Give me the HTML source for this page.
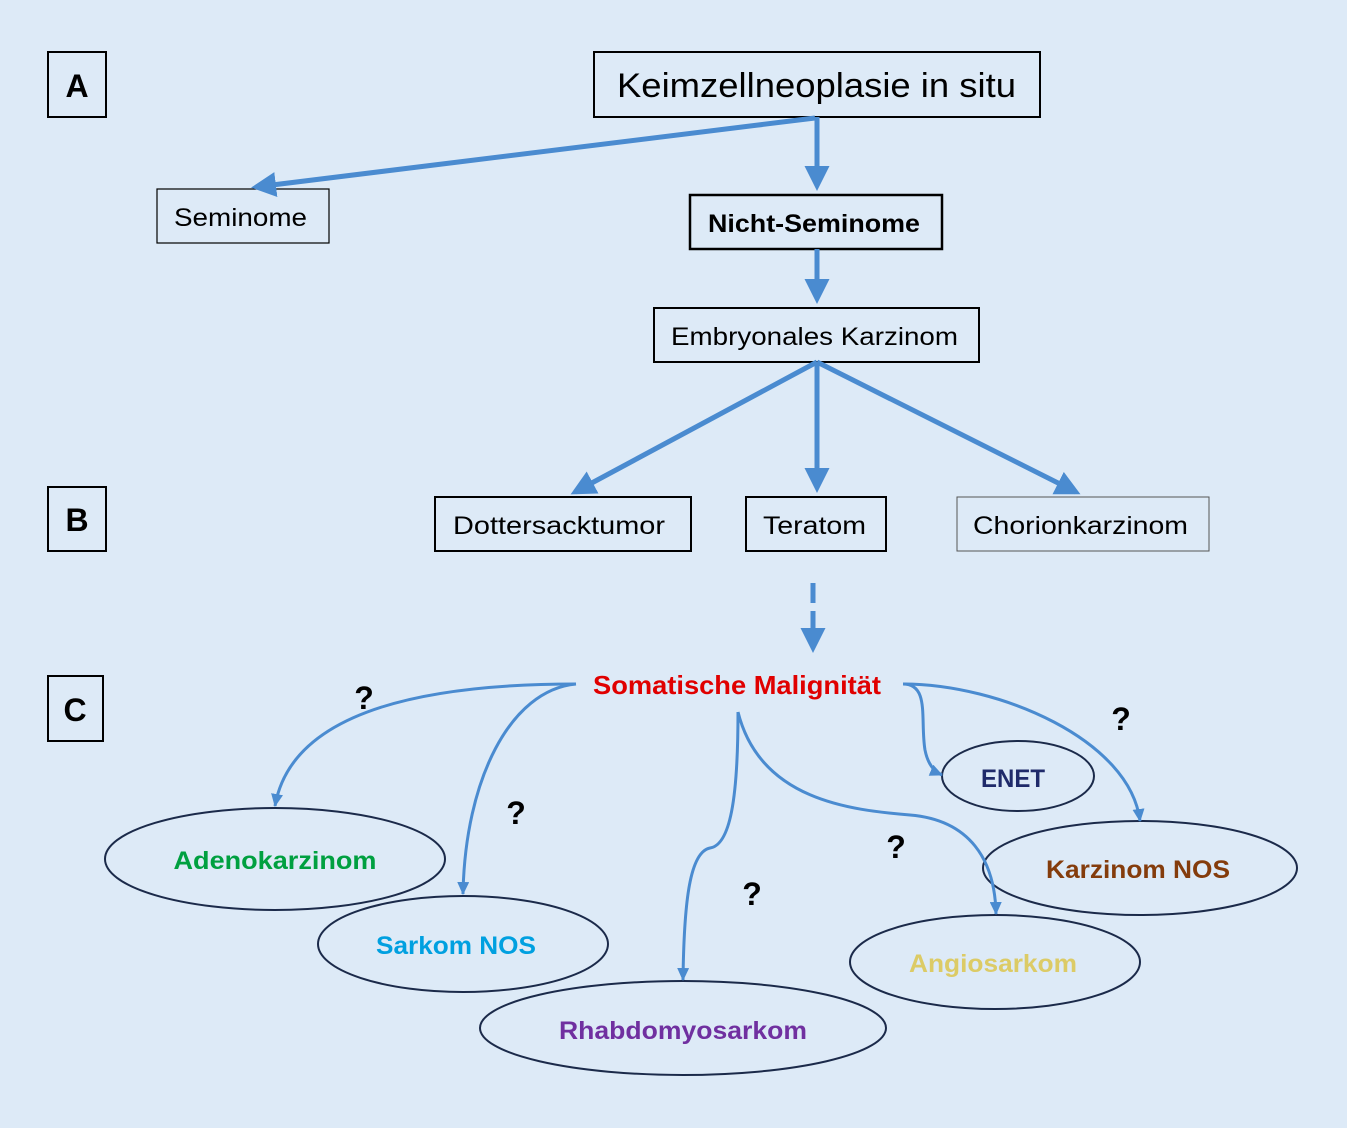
<!DOCTYPE html>
<html><head><meta charset="utf-8"><style>
html,body{margin:0;padding:0;background:#ddeaf7;}
svg{display:block;}
text{font-family:"Liberation Sans",sans-serif;}
</style></head><body>
<svg width="1347" height="1128" viewBox="0 0 1347 1128" xmlns="http://www.w3.org/2000/svg">
<defs>
<marker id="ab" markerWidth="5" markerHeight="5" refX="4" refY="2.5" orient="auto" markerUnits="strokeWidth"><path d="M0,0 L5,2.5 L0,5 z" fill="#4a8bd0"/></marker>
<marker id="as" markerWidth="13" markerHeight="12" refX="12" refY="6" orient="auto" markerUnits="userSpaceOnUse"><path d="M0,0 L13,6 L0,12 z" fill="#4a8bd0"/></marker>
</defs>
<rect width="1347" height="1128" fill="#ddeaf7"/>
<g fill="none" stroke="#000" stroke-width="2">
<rect x="48" y="52" width="58" height="65"/>
<rect x="48" y="487" width="58" height="64"/>
<rect x="48" y="676" width="55" height="65"/>
<rect x="594" y="52" width="446" height="65"/>
<rect x="157" y="189" width="172" height="54" stroke-width="1.2"/>
<rect x="690" y="195" width="252" height="54" stroke-width="2.5"/>
<rect x="654" y="308" width="325" height="54"/>
<rect x="435" y="497" width="256" height="54"/>
<rect x="746" y="497" width="140" height="54"/>
<rect x="957" y="497" width="252" height="54" stroke="#555" stroke-width="1"/>
</g>
<g font-weight="bold" font-size="32" text-anchor="middle">
<text x="77" y="97">A</text><text x="77" y="531">B</text><text x="75" y="721">C</text>
</g>
<text x="617" y="97" font-size="34" textLength="399" lengthAdjust="spacingAndGlyphs">Keimzellneoplasie in situ</text>
<text x="174" y="226" font-size="25" textLength="133" lengthAdjust="spacingAndGlyphs">Seminome</text>
<text x="708" y="232" font-size="25" font-weight="bold" textLength="212" lengthAdjust="spacingAndGlyphs">Nicht-Seminome</text>
<text x="671" y="345" font-size="25" textLength="287" lengthAdjust="spacingAndGlyphs">Embryonales Karzinom</text>
<text x="453" y="534" font-size="25" textLength="212" lengthAdjust="spacingAndGlyphs">Dottersacktumor</text>
<text x="763" y="534" font-size="25" textLength="103" lengthAdjust="spacingAndGlyphs">Teratom</text>
<text x="973" y="534" font-size="25" textLength="215" lengthAdjust="spacingAndGlyphs">Chorionkarzinom</text>
<g stroke="#4a8bd0" stroke-width="5" fill="none" marker-end="url(#ab)">
<path d="M817,117 L817,186"/>
<path d="M815,118 L256,187"/>
<path d="M817,249 L817,299"/>
<path d="M817,362 L575,492"/>
<path d="M817,362 L817,488"/>
<path d="M817,362 L1076,492"/>
<path d="M813,583 L813,648" stroke-dasharray="20,8"/>
</g>
<text x="593" y="694" font-size="26" font-weight="bold" fill="#e00000" textLength="288" lengthAdjust="spacingAndGlyphs">Somatische Malignität</text>
<g fill="#ddeaf7" stroke="#1b2a4a" stroke-width="2">
<ellipse cx="275" cy="859" rx="170" ry="51"/>
<ellipse cx="463" cy="944" rx="145" ry="48"/>
<ellipse cx="683" cy="1028" rx="203" ry="47"/>
<ellipse cx="995" cy="962" rx="145" ry="47"/>
<ellipse cx="1140" cy="868" rx="157" ry="47"/>
<ellipse cx="1018" cy="776" rx="76" ry="35"/>
</g>
<g stroke="#4a8bd0" stroke-width="3" fill="none" marker-end="url(#as)">
<path d="M576,684 C400,684 290,720 275,806"/>
<path d="M576,684 C510,690 465,780 463,894"/>
<path d="M738,712 C738,800 730,845 710,848 C690,852 684,900 683,980"/>
<path d="M738,712 C760,800 850,810 910,815 C970,820 995,860 996,914"/>
<path d="M903,684 C930,684 920,720 925,750 C928,765 935,772 942,775"/>
<path d="M903,684 C1000,684 1130,740 1140,821"/>
</g>
<g font-weight="bold" font-size="25" text-anchor="middle">
<text x="275" y="869" fill="#00a040" textLength="203" lengthAdjust="spacingAndGlyphs">Adenokarzinom</text>
<text x="456" y="954" fill="#00a0e0" textLength="160" lengthAdjust="spacingAndGlyphs">Sarkom NOS</text>
<text x="683" y="1039" fill="#7030a0" textLength="248" lengthAdjust="spacingAndGlyphs">Rhabdomyosarkom</text>
<text x="993" y="972" fill="#dccb66" textLength="168" lengthAdjust="spacingAndGlyphs">Angiosarkom</text>
<text x="1138" y="878" fill="#843c0c" textLength="184" lengthAdjust="spacingAndGlyphs">Karzinom NOS</text>
<text x="1013" y="787" fill="#1f2a6a" textLength="64" lengthAdjust="spacingAndGlyphs">ENET</text>
</g>
<g font-weight="bold" font-size="32" text-anchor="middle">
<text x="364" y="709">?</text><text x="516" y="824">?</text><text x="752" y="905">?</text>
<text x="896" y="858">?</text><text x="1121" y="730">?</text>
</g>
</svg>
</body></html>
